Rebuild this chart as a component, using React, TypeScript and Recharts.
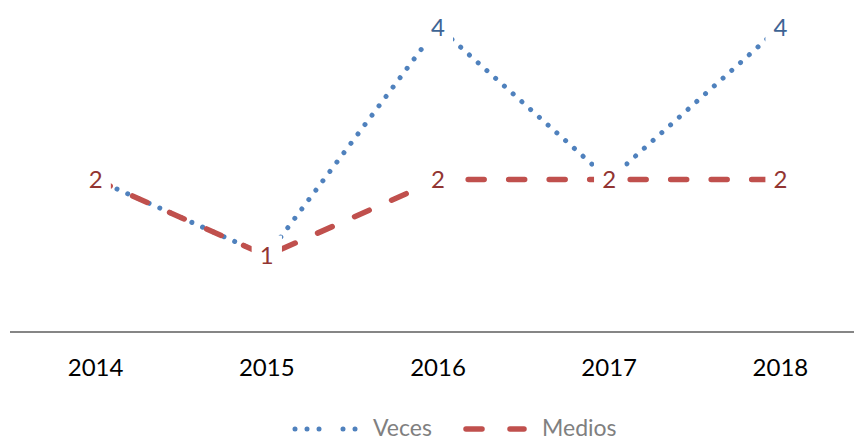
import React from "react";
import { LineChart, Line, XAxis, YAxis, Legend, LabelList } from "recharts";

const FONT = "Lato, 'Open Sans', sans-serif";

const years = ["2014", "2015", "2016", "2017", "2018"];
const veces = [2, 1, 4, 2, 4];
const medios = [2, 1, 2, 2, 2];

const BLUE = "#4F81BD";
const RED = "#C0504D";
const BLUE_LABEL = "#3E6494";
const RED_LABEL = "#923532";

const data = years.map((year, i) => ({ year, Veces: veces[i], Medios: medios[i] }));

// data label with a white box behind it, like the Excel original
const makeLabel = (color: string) => (props: any) => {
  const { x, y, value } = props;
  if (x == null || y == null) return null;
  return (
    <g>
      <rect x={x - 15} y={y - 20} width={30} height={40} fill="#fff" />
      <text x={x} y={y + 8.5} textAnchor="middle" fill={color} fontSize={24} fontFamily={FONT}>
        {value}
      </text>
    </g>
  );
};

function LegendContent() {
  return (
    <svg width={854} height={40} style={{ display: "block" }}>
      <line x1={295} x2={320} y1={28} y2={28} stroke={BLUE} strokeWidth={5} strokeLinecap="round" strokeDasharray="0.01 12" />
      <line x1={343} x2={356} y1={28} y2={28} stroke={BLUE} strokeWidth={5} strokeLinecap="round" strokeDasharray="0.01 12" />
      <text x={373} y={35} fill="#808080" fontSize={23} fontFamily={FONT}>Veces</text>
      <line x1={466} x2={482} y1={28} y2={28} stroke={RED} strokeWidth={5.5} strokeLinecap="round" />
      <line x1={510} x2={524} y1={28} y2={28} stroke={RED} strokeWidth={5.5} strokeLinecap="round" />
      <text x={542} y={35} fill="#808080" fontSize={23} fontFamily={FONT}>Medios</text>
    </svg>
  );
}

export default function App() {
  return (
    <div
      style={{
        position: "absolute",
        left: 0,
        top: 0,
        width: 854,
        height: 441,
        overflow: "hidden",
        background: "#fff",
        fontFamily: FONT,
      }}
    >
      <LineChart width={866} height={441} data={data} margin={{ top: 27, right: 0, bottom: 0, left: 10 }}>
        <XAxis
          dataKey="year"
          axisLine={{ stroke: "#868686", strokeWidth: 2 }}
          tickLine={false}
          tickMargin={21}
          height={69}
          interval={0}
          padding={{ left: 85.6, right: 85.6 }}
          tick={{ fill: "#000", fontSize: 24, fontFamily: FONT }}
        />
        <YAxis hide domain={[0, 4]} />
        <Legend
          verticalAlign="bottom"
          height={40}
          wrapperStyle={{ left: 0, width: 854 }}
          content={() => <LegendContent />}
        />
        <Line
          dataKey="Veces"
          stroke={BLUE}
          strokeWidth={5}
          strokeLinecap="round"
          strokeDasharray="0.01 11.7"
          dot={false}
          activeDot={false}
          isAnimationActive={false}
        >
          <LabelList dataKey="Veces" content={makeLabel(BLUE_LABEL)} />
        </Line>
        <Line
          dataKey="Medios"
          stroke={RED}
          strokeWidth={5.5}
          strokeLinecap="round"
          strokeDasharray="16 24.5"
          dot={false}
          activeDot={false}
          isAnimationActive={false}
        >
          <LabelList dataKey="Medios" content={makeLabel(RED_LABEL)} />
        </Line>
      </LineChart>
    </div>
  );
}
